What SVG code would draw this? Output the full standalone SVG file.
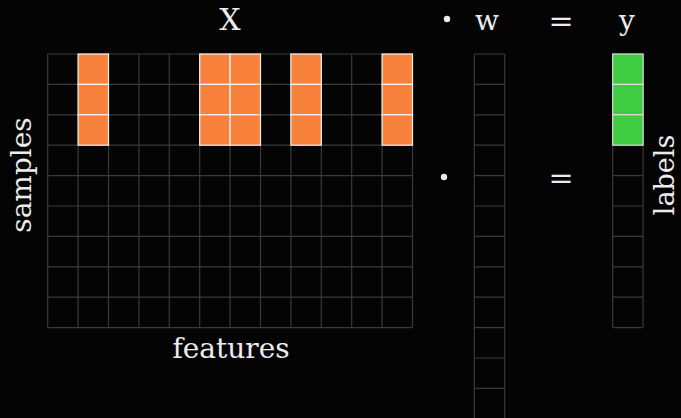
<svg xmlns="http://www.w3.org/2000/svg" width="681" height="418" viewBox="0 0 681 418">
<style>
.g{fill:none;stroke:#3a3a3a;stroke-width:1.2}
.o{fill:#F7803A;stroke:#f4f4f4;stroke-width:1.2}
.gr{fill:#3ECC40;stroke:#dddddd;stroke-width:1.2}
.t{fill:#ececec}
</style>
<rect width="681" height="418" fill="#040404"/>
<g id="matrixX">
<path class="g" d="M47.7 54V327.6M78.1 54V327.6M108.5 54V327.6M138.9 54V327.6M169.3 54V327.6M199.7 54V327.6M230.1 54V327.6M260.5 54V327.6M290.9 54V327.6M321.3 54V327.6M351.7 54V327.6M382.1 54V327.6M412.5 54V327.6M47.7 54H412.5M47.7 84.4H412.5M47.7 114.8H412.5M47.7 145.2H412.5M47.7 175.6H412.5M47.7 206H412.5M47.7 236.4H412.5M47.7 266.8H412.5M47.7 297.2H412.5M47.7 327.6H412.5"/>
<g id="Xhigh">
<rect class="o" x="78.1" y="54" width="30.4" height="30.4"/>
<rect class="o" x="78.1" y="84.4" width="30.4" height="30.4"/>
<rect class="o" x="78.1" y="114.8" width="30.4" height="30.4"/>
<rect class="o" x="199.7" y="54" width="30.4" height="30.4"/>
<rect class="o" x="199.7" y="84.4" width="30.4" height="30.4"/>
<rect class="o" x="199.7" y="114.8" width="30.4" height="30.4"/>
<rect class="o" x="230.1" y="54" width="30.4" height="30.4"/>
<rect class="o" x="230.1" y="84.4" width="30.4" height="30.4"/>
<rect class="o" x="230.1" y="114.8" width="30.4" height="30.4"/>
<rect class="o" x="290.9" y="54" width="30.4" height="30.4"/>
<rect class="o" x="290.9" y="84.4" width="30.4" height="30.4"/>
<rect class="o" x="290.9" y="114.8" width="30.4" height="30.4"/>
<rect class="o" x="382.1" y="54" width="30.4" height="30.4"/>
<rect class="o" x="382.1" y="84.4" width="30.4" height="30.4"/>
<rect class="o" x="382.1" y="114.8" width="30.4" height="30.4"/>
</g>
<text class="t" x="230" y="30" font-family="DejaVu Serif, serif" font-size="30" text-anchor="middle">X</text>
<text class="t" x="231" y="358" font-family="DejaVu Serif, serif" font-size="28" text-anchor="middle">features</text>
<text class="t" font-family="DejaVu Serif, serif" font-size="28" text-anchor="middle" transform="translate(31,175) rotate(-90)">samples</text>
</g>
<g id="vectorW">
<path class="g" d="M474.3 54V418M504.7 54V418M474.3 54H504.7M474.3 84.4H504.7M474.3 114.8H504.7M474.3 145.2H504.7M474.3 175.6H504.7M474.3 206H504.7M474.3 236.4H504.7M474.3 266.8H504.7M474.3 297.2H504.7M474.3 327.6H504.7M474.3 358H504.7M474.3 388.4H504.7"/>
<text class="t" x="487" y="30" font-family="DejaVu Serif, serif" font-size="28" text-anchor="middle">w</text>
</g>
<g id="vectorY">
<path class="g" d="M612.7 54V327.6M643.1 54V327.6M612.7 54H643.1M612.7 84.4H643.1M612.7 114.8H643.1M612.7 145.2H643.1M612.7 175.6H643.1M612.7 206H643.1M612.7 236.4H643.1M612.7 266.8H643.1M612.7 297.2H643.1M612.7 327.6H643.1"/>
<rect class="gr" x="612.7" y="54" width="30.4" height="30.4"/>
<rect class="gr" x="612.7" y="84.4" width="30.4" height="30.4"/>
<rect class="gr" x="612.7" y="114.8" width="30.4" height="30.4"/>
<text class="t" x="627" y="30" font-family="DejaVu Serif, serif" font-size="28" text-anchor="middle">y</text>
<text class="t" font-family="DejaVu Serif, serif" font-size="27" text-anchor="middle" transform="translate(674,175) rotate(-90)">labels</text>
</g>
<g id="operators">
<circle cx="447" cy="19" r="3.2" fill="#ececec"/>
<circle cx="444" cy="177" r="3.2" fill="#ececec"/>
<text class="t" x="561" y="31" font-family="DejaVu Serif, serif" font-size="30" text-anchor="middle">=</text>
<text class="t" x="561" y="188" font-family="DejaVu Serif, serif" font-size="30" text-anchor="middle">=</text>
</g>
</svg>
